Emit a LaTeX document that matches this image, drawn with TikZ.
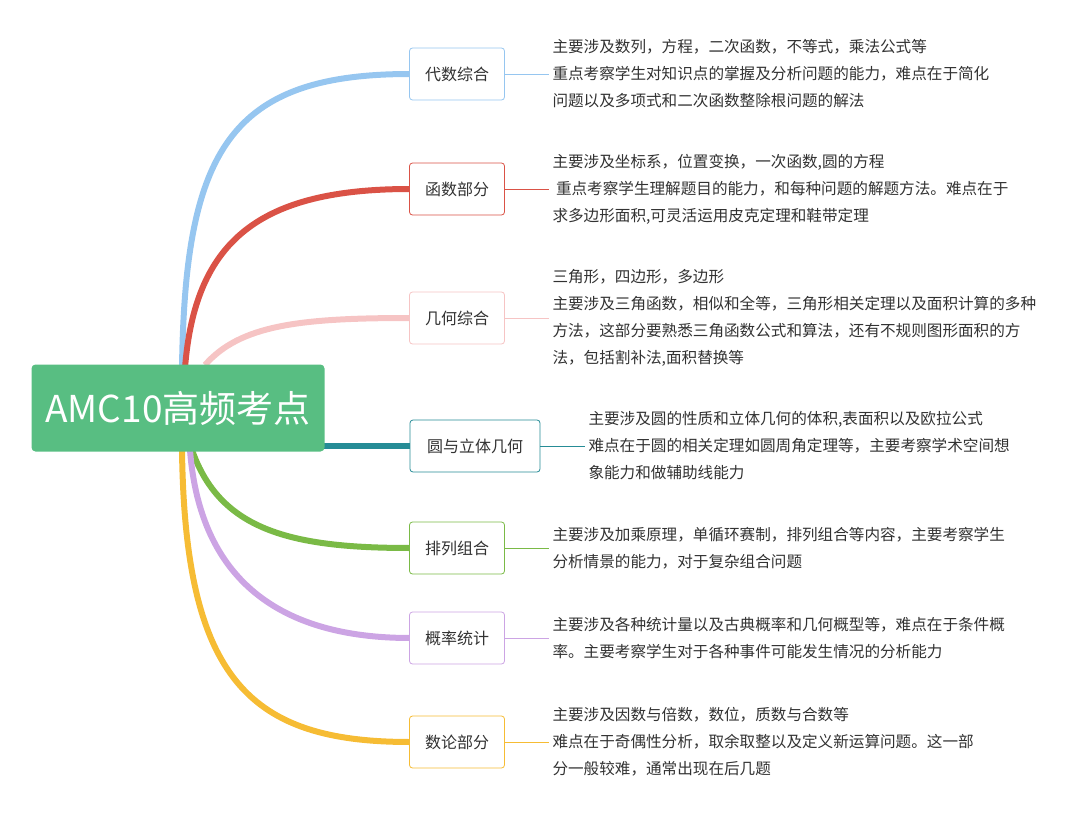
\documentclass[tikz,border=0pt]{standalone}
\usepackage{fontspec}
\setmainfont{Noto Sans CJK SC}
\usetikzlibrary{positioning}
\definecolor{rootgreen}{RGB}{88,190,130}
\definecolor{cblue}{RGB}{150,198,240}
\definecolor{cred}{RGB}{218,82,70}
\definecolor{cpink}{RGB}{246,196,196}
\definecolor{cteal}{RGB}{38,140,150}
\definecolor{cgreen}{RGB}{122,186,70}
\definecolor{cpurple}{RGB}{204,164,228}
\definecolor{cyellow}{RGB}{246,188,52}
\definecolor{txt}{RGB}{50,50,50}
\begin{document}
\begin{tikzpicture}
  [
    x=1pt, y=-1pt,
    root node/.style={fill=rootgreen, rounded corners=4pt, text=white, font=\fontsize{37}{40}\selectfont, minimum width=293pt, minimum height=87pt},
    topic/.style={draw=#1, fill=white, rounded corners=3pt, line width=0.8pt, font=\fontsize{16}{18}\selectfont, text=txt, minimum height=52pt, minimum width=95pt},
    info/.style={anchor=west, align=left, text=txt, font=\fontsize{15.6}{27}\selectfont},
    branch/.style={line width=6pt, #1},
    tie/.style={line width=0.8pt, #1},
  ]
  \useasboundingbox (0,0) rectangle (1080,816);
  % branches
  \draw[branch=cblue] (182,368) .. controls (185,150) and (230,74) .. (410,74);
  \draw[branch=cred] (185,368) .. controls (195,240) and (260,189) .. (410,189);
  \draw[branch=cpink] (205,365) .. controls (240,325) and (300,318) .. (410,318);
  \draw[branch=cteal] (320,446) -- (410,446);
  \draw[branch=cgreen] (192,450) .. controls (220,530) and (290,548) .. (410,548);
  \draw[branch=cpurple] (190,450) .. controls (200,580) and (280,638) .. (410,638);
  \draw[branch=cyellow] (182,450) .. controls (185,680) and (250,742) .. (410,742);
  % root
  \node[root node] (amc) at (178,408) {AMC10高频考点};
  % topics
  \node[topic=cblue] (alg) at (457,74) {代数综合};
  \node[topic=cred] (fun) at (457,189) {函数部分};
  \node[topic=cpink] (geo) at (457,318) {几何综合};
  \node[topic=cteal, minimum width=130pt] (cir) at (475,446) {圆与立体几何};
  \node[topic=cgreen] (com) at (457,548) {排列组合};
  \node[topic=cpurple] (pro) at (457,638) {概率统计};
  \node[topic=cyellow] (num) at (457,742) {数论部分};
  % notes
  \node[info] (algtxt) at (549,74) {主要涉及数列，方程，二次函数，不等式，乘法公式等\\重点考察学生对知识点的掌握及分析问题的能力，难点在于简化\\问题以及多项式和二次函数整除根问题的解法};
  \node[info] (funtxt) at (549,189) {主要涉及坐标系，位置变换，一次函数,圆的方程\\\ 重点考察学生理解题目的能力，和每种问题的解题方法。难点在于\\求多边形面积,可灵活运用皮克定理和鞋带定理};
  \node[info] (geotxt) at (549,318) {三角形，四边形，多边形\\主要涉及三角函数，相似和全等，三角形相关定理以及面积计算的多种\\方法，这部分要熟悉三角函数公式和算法，还有不规则图形面积的方\\法，包括割补法,面积替换等};
  \node[info] (cirtxt) at (585,446) {主要涉及圆的性质和立体几何的体积,表面积以及欧拉公式\\难点在于圆的相关定理如圆周角定理等，主要考察学术空间想\\象能力和做辅助线能力};
  \node[info] (comtxt) at (549,548) {主要涉及加乘原理，单循环赛制，排列组合等内容，主要考察学生\\分析情景的能力，对于复杂组合问题};
  \node[info] (protxt) at (549,638) {主要涉及各种统计量以及古典概率和几何概型等，难点在于条件概\\率。主要考察学生对于各种事件可能发生情况的分析能力};
  \node[info] (numtxt) at (549,742) {主要涉及因数与倍数，数位，质数与合数等\\难点在于奇偶性分析，取余取整以及定义新运算问题。这一部\\分一般较难，通常出现在后几题};
  % ties
  \draw[tie=cblue] (alg.east) -- (algtxt.west);
  \draw[tie=cred] (fun.east) -- (funtxt.west);
  \draw[tie=cpink] (geo.east) -- (geotxt.west);
  \draw[tie=cteal] (cir.east) -- (cirtxt.west);
  \draw[tie=cgreen] (com.east) -- (comtxt.west);
  \draw[tie=cpurple] (pro.east) -- (protxt.west);
  \draw[tie=cyellow] (num.east) -- (numtxt.west);
\end{tikzpicture}
\end{document}
